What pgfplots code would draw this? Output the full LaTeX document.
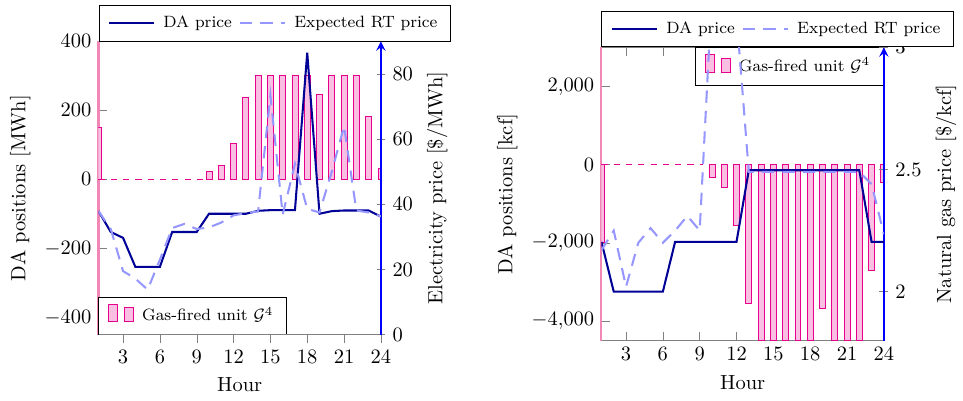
\documentclass[border=0pt]{standalone}
\usepackage{pgfplots}
\pgfplotsset{compat=1.18}

\definecolor{posline}{RGB}{232,0,140}
\definecolor{posaxis}{RGB}{240,135,180}
\definecolor{daprice}{RGB}{0,0,150}
\definecolor{rtprice}{RGB}{150,150,255}

\pgfplotsset{
  panel/.style={scale only axis, width=137.9pt, height=143.2pt, xmin=1, xmax=24},
  tick style={gray},
  every axis legend/.append style={font=\footnotesize, draw=black, fill=white,
    inner xsep=4.5pt, inner ysep=3pt,
    /tikz/every odd column/.append style={column sep=2pt},
    /tikz/every even column/.append style={column sep=1.5pt}},
  gasbars/.style={legend image code/.code={%
    \draw[##1,/tikz/.cd,yshift=-0.3em] (0pt,0pt) rectangle (4.4pt,8.7pt);
    \draw[##1,/tikz/.cd,yshift=-0.3em] (7.8pt,0pt) rectangle (12.2pt,6.8pt);}},
  longline/.style={legend image code/.code={%
    \draw[##1,/tikz/.cd] (0pt,0pt) -- (22pt,0pt);}},
  posbars/.style={ybar, bar width=2.9pt, draw=posline, fill=posline!25, gasbars},
  daline/.style={daprice, line width=1pt, longline},
  rtline/.style={rtprice, line width=1pt, dash pattern=on 6pt off 4pt, longline},
}

\begin{document}
\begin{tikzpicture}

% ---------- left panel: electricity ----------
\begin{axis}[panel, ymin=-450, ymax=400,
  axis y line*=left, axis x line*=bottom, xtick=\empty,
  x axis line style={gray}, y axis line style={posaxis, line width=1pt},
  ytick={-400,-200,...,400}, tick align=inside,
  ylabel={DA positions [MWh]},
  legend style={at={(0,0)}, anchor=south west}]
\addplot[posbars] coordinates {
  (1,150) (10,22) (11,40) (12,104) (13,239) (14,300) (15,300) (16,300)
  (17,300) (18,300) (19,247) (20,300) (21,300) (22,300) (23,183) (24,32)};
\addlegendentry{Gas-fired unit $\mathcal{G}^4$}
\addplot[forget plot, posline, dashed] coordinates {(1,0) (9.6,0)};
\end{axis}

\begin{axis}[panel, ymin=0, ymax=1, axis y line=none, axis x line*=bottom,
  x axis line style={gray}, tick align=outside,
  xtick={3,6,...,24}, xlabel={Hour}]
\end{axis}

\begin{axis}[panel, ymin=0, ymax=90, axis x line=none, axis y line=right,
  y axis line style={blue, line width=1pt}, ytick={0,20,...,80}, tick align=center,
  ylabel={Electricity price [\$/MWh]},
  legend style={at={(0,1)}, anchor=south west, legend columns=2}]
\addplot[daline] coordinates {
  (1,37.9) (2,31.5) (3,29.7) (4,20.8) (5,20.8) (6,20.8) (7,31.5) (8,31.5)
  (9,31.5) (10,37.1) (11,37.1) (12,37.1) (13,37.1) (14,38.0) (15,38.2) (16,38.2)
  (17,38.2) (18,86.5) (19,37.1) (20,37.9) (21,38.1) (22,38.1) (23,38.1) (24,36.2)};
\addlegendentry{DA price}
\addplot[rtline] coordinates {
  (1,37.9) (2,32.4) (3,19.5) (4,17.2) (5,13.8) (6,23.0) (7,32.7) (8,34.0)
  (9,32.4) (10,32.9) (11,34.4) (12,36.6) (13,37.3) (14,37.8) (15,73.5) (16,36.8)
  (17,52.4) (18,38.6) (19,37.5) (20,50.0) (21,64.0) (22,38.1) (23,37.5) (24,36.3)};
\addlegendentry{Expected RT price}
\end{axis}

% ---------- right panel: natural gas ----------
\begin{axis}[panel, at={(245.6pt,-2.9pt)}, ymin=-4500, ymax=3000,
  separate axis lines,
  x axis line style={gray, line width=0.8pt}, y axis line style={posaxis, line width=1pt},
  tick align=inside, xtick pos=both, ytick pos=left,
  xtick={3,6,...,24}, ytick={-4000,-2000,0,2000},
  xlabel={Hour}, ylabel={DA positions [kcf]},
  legend style={at={(1,1)}, anchor=north east}]
\addplot[posbars] coordinates {
  (1,-2000) (10,-315) (11,-590) (12,-1545) (13,-3545) (14,-4500) (15,-4500) (16,-4500)
  (17,-4500) (18,-4500) (19,-3670) (20,-4500) (21,-4500) (22,-4500) (23,-2715) (24,-460)};
\addlegendentry{Gas-fired unit $\mathcal{G}^4$}
\addplot[forget plot, posline, dashed] coordinates {(1,0) (9.23,0)};
\end{axis}

\begin{axis}[panel, at={(245.6pt,-2.9pt)}, ymin=1.8, ymax=3, axis x line=none, axis y line=right,
  y axis line style={blue, line width=1pt}, ytick={2,2.5,3}, tick align=center,
  ylabel={Natural gas price [\$/kcf]},
  legend style={at={(0,1)}, anchor=south west, legend columns=2}]
\addplot[daline] coordinates {
  (1,2.204) (2,2.0) (3,2.0) (4,2.0) (5,2.0) (6,2.0) (7,2.204) (8,2.204)
  (9,2.204) (10,2.204) (11,2.204) (12,2.204) (13,2.497) (14,2.497) (15,2.497) (16,2.497)
  (17,2.497) (18,2.497) (19,2.497) (20,2.497) (21,2.497) (22,2.497) (23,2.204) (24,2.204)};
\addlegendentry{DA price}
\addplot[rtline] coordinates {
  (1,2.17) (2,2.25) (3,2.02) (4,2.20) (5,2.26) (6,2.20) (7,2.25) (8,2.31)
  (9,2.25) (10,3.23) (11,3.35) (12,3.13) (13,2.49) (14,2.49) (15,2.49) (16,2.49)
  (17,2.49) (18,2.49) (19,2.49) (20,2.49) (21,2.49) (22,2.49) (23,2.44) (24,2.235)};
\addlegendentry{Expected RT price}
\end{axis}

\path (-48.1pt,-32.2pt) rectangle (419.4pt,163.4pt);
\end{tikzpicture}
\end{document}
